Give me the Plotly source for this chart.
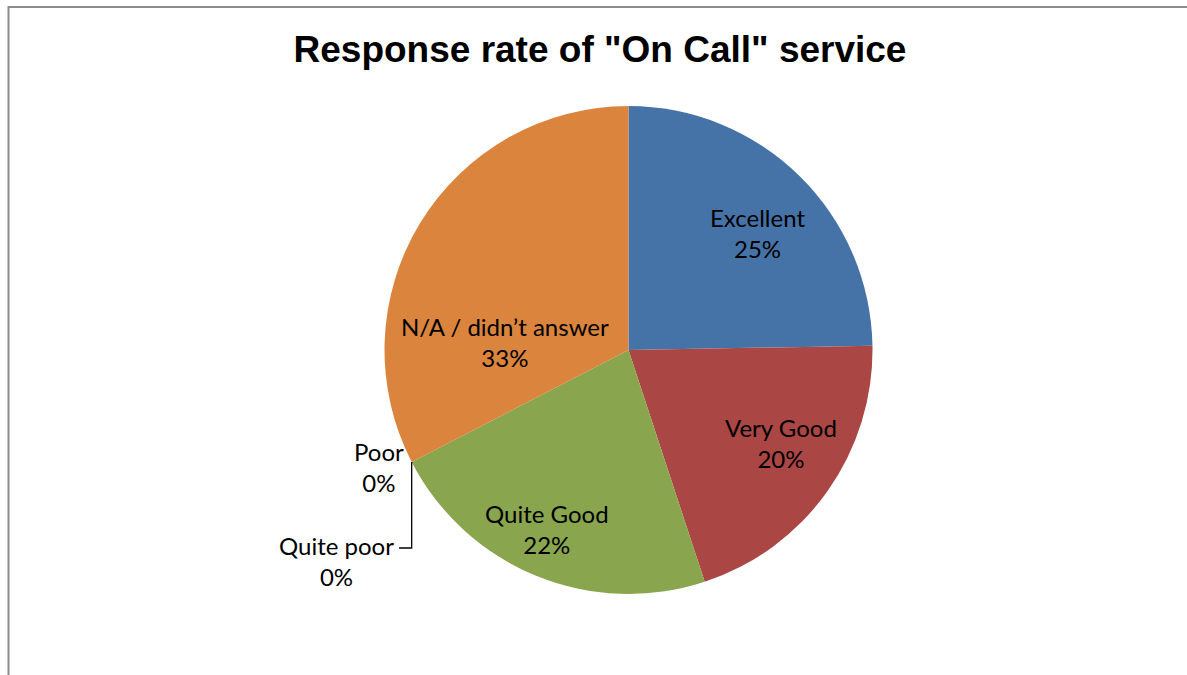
import math
import plotly.graph_objects as go

# Survey responses for the "On Call" service
categories = ["Excellent", "Very Good", "Quite Good", "Quite poor", "Poor", "N/A / didn’t answer"]
responses = [22, 18, 20, 0, 0, 29]
slice_colors = ["#4573A7", "#AA4644", "#89A54E", "#71588F", "#4198AF", "#DB843D"]

W, H = 1187, 675
CX, CY, R = 628.5, 350, 244   # pie centre and radius in pixels

total = sum(responses)
pcts = [round(v / total * 100) for v in responses]


def px(x):
    return x / W


def py(y):
    return 1 - y / H


fig = go.Figure(go.Pie(
    labels=categories,
    values=responses,
    sort=False,
    direction="clockwise",
    rotation=0,
    marker=dict(colors=slice_colors, line=dict(width=0)),
    textinfo="none",
    hoverinfo="label+percent",
    showlegend=False,
    domain=dict(x=[px(CX - R), px(CX + R)], y=[py(CY + R), py(CY - R)]),
))

label_font = dict(family="Lato, Carlito, sans-serif", size=24, color="black")

# label anchors (pixel centres) for each category
label_pos = {
    "Excellent": (757, 233),
    "Very Good": (781, 443),
    "Quite Good": (547, 529),
    "Quite poor": (336, 561),
    "Poor": (379, 467),
    "N/A / didn’t answer": (505, 342),
}

for name, pct in zip(categories, pcts):
    x, y = label_pos[name]
    fig.add_annotation(
        x=px(x), y=py(y), xref="paper", yref="paper",
        text=f"{name}<br>{pct}%", showarrow=False,
        font=label_font, align="center",
        xanchor="center", yanchor="middle",
    )

# leader line from the zero-size slices' edge down to the "Quite poor" label
cum = sum(responses[:3]) / total
ang = 2 * math.pi * cum
ex = CX + R * math.sin(ang)
ey = CY - R * math.cos(ang)
fig.add_shape(
    type="path", xref="paper", yref="paper",
    path=f"M {px(ex)} {py(ey)} L {px(ex)} {py(548)} L {px(399)} {py(548)}",
    line=dict(color="black", width=1.3),
)

# chart frame
fig.add_shape(
    type="rect", xref="paper", yref="paper",
    x0=px(8.5), y0=-0.05, x1=1.05, y1=py(7),
    line=dict(color="#8c8c8c", width=2), layer="below",
)

fig.update_layout(
    width=W, height=H,
    margin=dict(l=0, r=0, t=0, b=0),
    paper_bgcolor="white",
    plot_bgcolor="white",
    title=dict(
        text="<b>Response rate of \"On Call\" service</b>",
        x=px(600), xanchor="center",
        y=py(49), yanchor="middle",
        font=dict(family="Liberation Sans, Arial, sans-serif", size=37, color="black"),
    ),
)

fig.write_html("out.html")
